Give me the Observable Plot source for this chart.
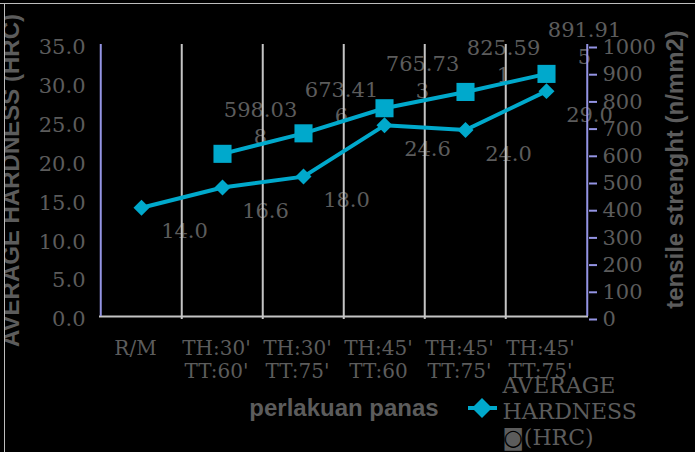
<!DOCTYPE html>
<html><head><meta charset="utf-8">
<script src="https://cdn.jsdelivr.net/npm/d3@7"></script>
<script src="https://cdn.jsdelivr.net/npm/@observablehq/plot@0.6"></script>
<style>
html,body{margin:0;padding:0;background:#000;}
#wrap{position:relative;width:695px;height:452px;overflow:hidden;background:#000;}
#wrap svg{display:block;}
#maskL{position:absolute;left:0;top:0;width:4px;height:452px;background:#000;border-right:1px solid #bdbdbd;}
#maskT{position:absolute;left:0;top:0;width:695px;height:3px;background:#000;border-bottom:1px solid #bdbdbd;}
</style></head><body><div id="wrap"></div>
<script>
// ---- data ----
const categories = ["R/M", "TH:30'\nTT:60'", "TH:30'\nTT:75'", "TH:45'\nTT:60", "TH:45'\nTT:75'", "TH:45'\nTT:75'"];
const hardness = [14.0, 16.6, 18.0, 24.6, 24.0, 29.0];
const tensile = [null, 598.038, 673.416, 765.733, 825.591, 891.915];
const hardnessTicks = [0, 5, 10, 15, 20, 25, 30, 35];
const tensileTicks = [0, 100, 200, 300, 400, 500, 600, 700, 800, 900, 1000];
const xTitle = "perlakuan panas";
const yLeftTitle = "AVERAGE HARDNESS (HRC)";
const yRightTitle = "tensile strenght (n/mm2)";
const legendLabel = "AVERAGE\nHARDNESS\n\u25D9(HRC)";

// ---- style ----
const W = 695, H = 452;
const mL = 99, mR = 107, mT = 44, mB = 136;
const bw = (W - mL - mR) / categories.length;
const k = 35 / 1000; // tensile -> hardness axis
const cyan = "#00a9cc", gray = "#5c5c5c", grid = "#c4c4c4", lav = "#9494e4";
const serif = "DejaVu Serif", sans = "Liberation Sans";

const rows = categories.map((c, i) => ({i, h: hardness[i], t: tensile[i]}));
const tRows = rows.filter(d => d.t != null);

const chart = Plot.plot({
  width: W, height: H,
  marginLeft: mL, marginRight: mR, marginTop: mT, marginBottom: mB,
  style: {background: "#000", color: gray, fontFamily: serif, fontSize: "20px"},
  x: {type: "point", domain: d3.range(categories.length), padding: 0.5, axis: null, label: null},
  y: {domain: [0, 35], axis: null, label: null},
  marks: [
    // data labels (under everything else, as in the reference)
    Plot.text(rows, {x: "i", y: "h", text: d => d.h.toFixed(1), dx: 43, dy: 24,
      fontSize: 21, fill: gray, fontFamily: serif}),
    Plot.text(tRows, {x: "i", y: d => d.t * k,
      text: d => { const s = String(d.t); return s.slice(0, 6) + "\n" + s.slice(6); },
      dx: 38, dy: -32, lineAnchor: "middle", lineHeight: 1.28, fontSize: 21, fill: gray, fontFamily: serif}),
    // gridlines at category boundaries
    Plot.ruleX(d3.range(1, categories.length), {x: d => d, dx: -bw / 2, stroke: grid, strokeWidth: 2, insetBottom: -3}),
    Plot.ruleY([0], {stroke: grid, strokeWidth: 2}),
    Plot.ruleX([0], {x: d => d, dx: -bw / 2, stroke: lav, strokeWidth: 2}),
    Plot.ruleX([categories.length - 1], {x: d => d, dx: bw / 2, stroke: lav, strokeWidth: 2}),
    // axes
    Plot.axisY(hardnessTicks, {anchor: "left", tickSize: 0, tickPadding: 14, tickFormat: d => d.toFixed(1),
      fontSize: 21, fill: gray, fontFamily: serif, dy: 3, label: null}),
    Plot.axisY(tensileTicks.map(v => v * k), {anchor: "right", tickSize: 8, tickPadding: 6,
      tickFormat: v => String(Math.round(v / k)), stroke: lav, strokeWidth: 2,
      fontSize: 21, fill: gray, fontFamily: serif, dy: 3, label: null}),
    Plot.axisX({tickSize: 0, tickPadding: 22, tickFormat: i => categories[i], lineHeight: 1.15,
      fontSize: 20, fill: gray, fontFamily: serif, dx: -6, label: null}),
    // series
    Plot.line(rows, {x: "i", y: "h", stroke: cyan, strokeWidth: 4}),
    Plot.dot(rows, {x: "i", y: "h", symbol: "diamond2", r: 7.2, fill: cyan, stroke: null}),
    Plot.line(tRows, {x: "i", y: d => d.t * k, stroke: cyan, strokeWidth: 4}),
    Plot.dot(tRows, {x: "i", y: d => d.t * k, symbol: "square", r: 10.2, fill: cyan, stroke: null}),
    // titles
    Plot.text([yLeftTitle], {frameAnchor: "left", dx: -88, rotate: -90, textAnchor: "middle", lineAnchor: "middle",
      fontFamily: sans, fontWeight: "bold", fontSize: 24, fill: gray}),
    Plot.text([yRightTitle], {frameAnchor: "right", dx: 87, dy: -11, rotate: -90, textAnchor: "middle", lineAnchor: "middle",
      fontFamily: sans, fontWeight: "bold", fontSize: 24, fill: gray}),
    Plot.text([xTitle], {frameAnchor: "bottom", dy: 92, textAnchor: "middle", lineAnchor: "middle",
      fontFamily: sans, fontWeight: "bold", fontSize: 24, fill: gray}),
    // legend
    Plot.text([legendLabel], {frameAnchor: "bottom-right", dx: -86, dy: 94, textAnchor: "start", lineAnchor: "middle",
      lineHeight: 1.18, fontSize: 22, fill: gray, fontFamily: serif}),
    (index, scales, values, dims) => {
      const cx = dims.width - dims.marginRight - 106, cy = dims.height - dims.marginBottom + 92;
      const g = d3.create("svg:g");
      g.append("line").attr("x1", cx - 14).attr("x2", cx + 15).attr("y1", cy).attr("y2", cy)
        .attr("stroke", cyan).attr("stroke-width", 4);
      g.append("path").attr("d", d3.symbol(d3.symbolDiamond2, 256)())
        .attr("transform", `translate(${cx},${cy})`).attr("fill", cyan);
      return g.node();
    }
  ]
});
const wrap = document.getElementById("wrap");
wrap.appendChild(chart);
const mL2 = document.createElement("div"); mL2.id = "maskL"; wrap.appendChild(mL2);
const mT2 = document.createElement("div"); mT2.id = "maskT"; wrap.appendChild(mT2);
</script>
</body></html>
